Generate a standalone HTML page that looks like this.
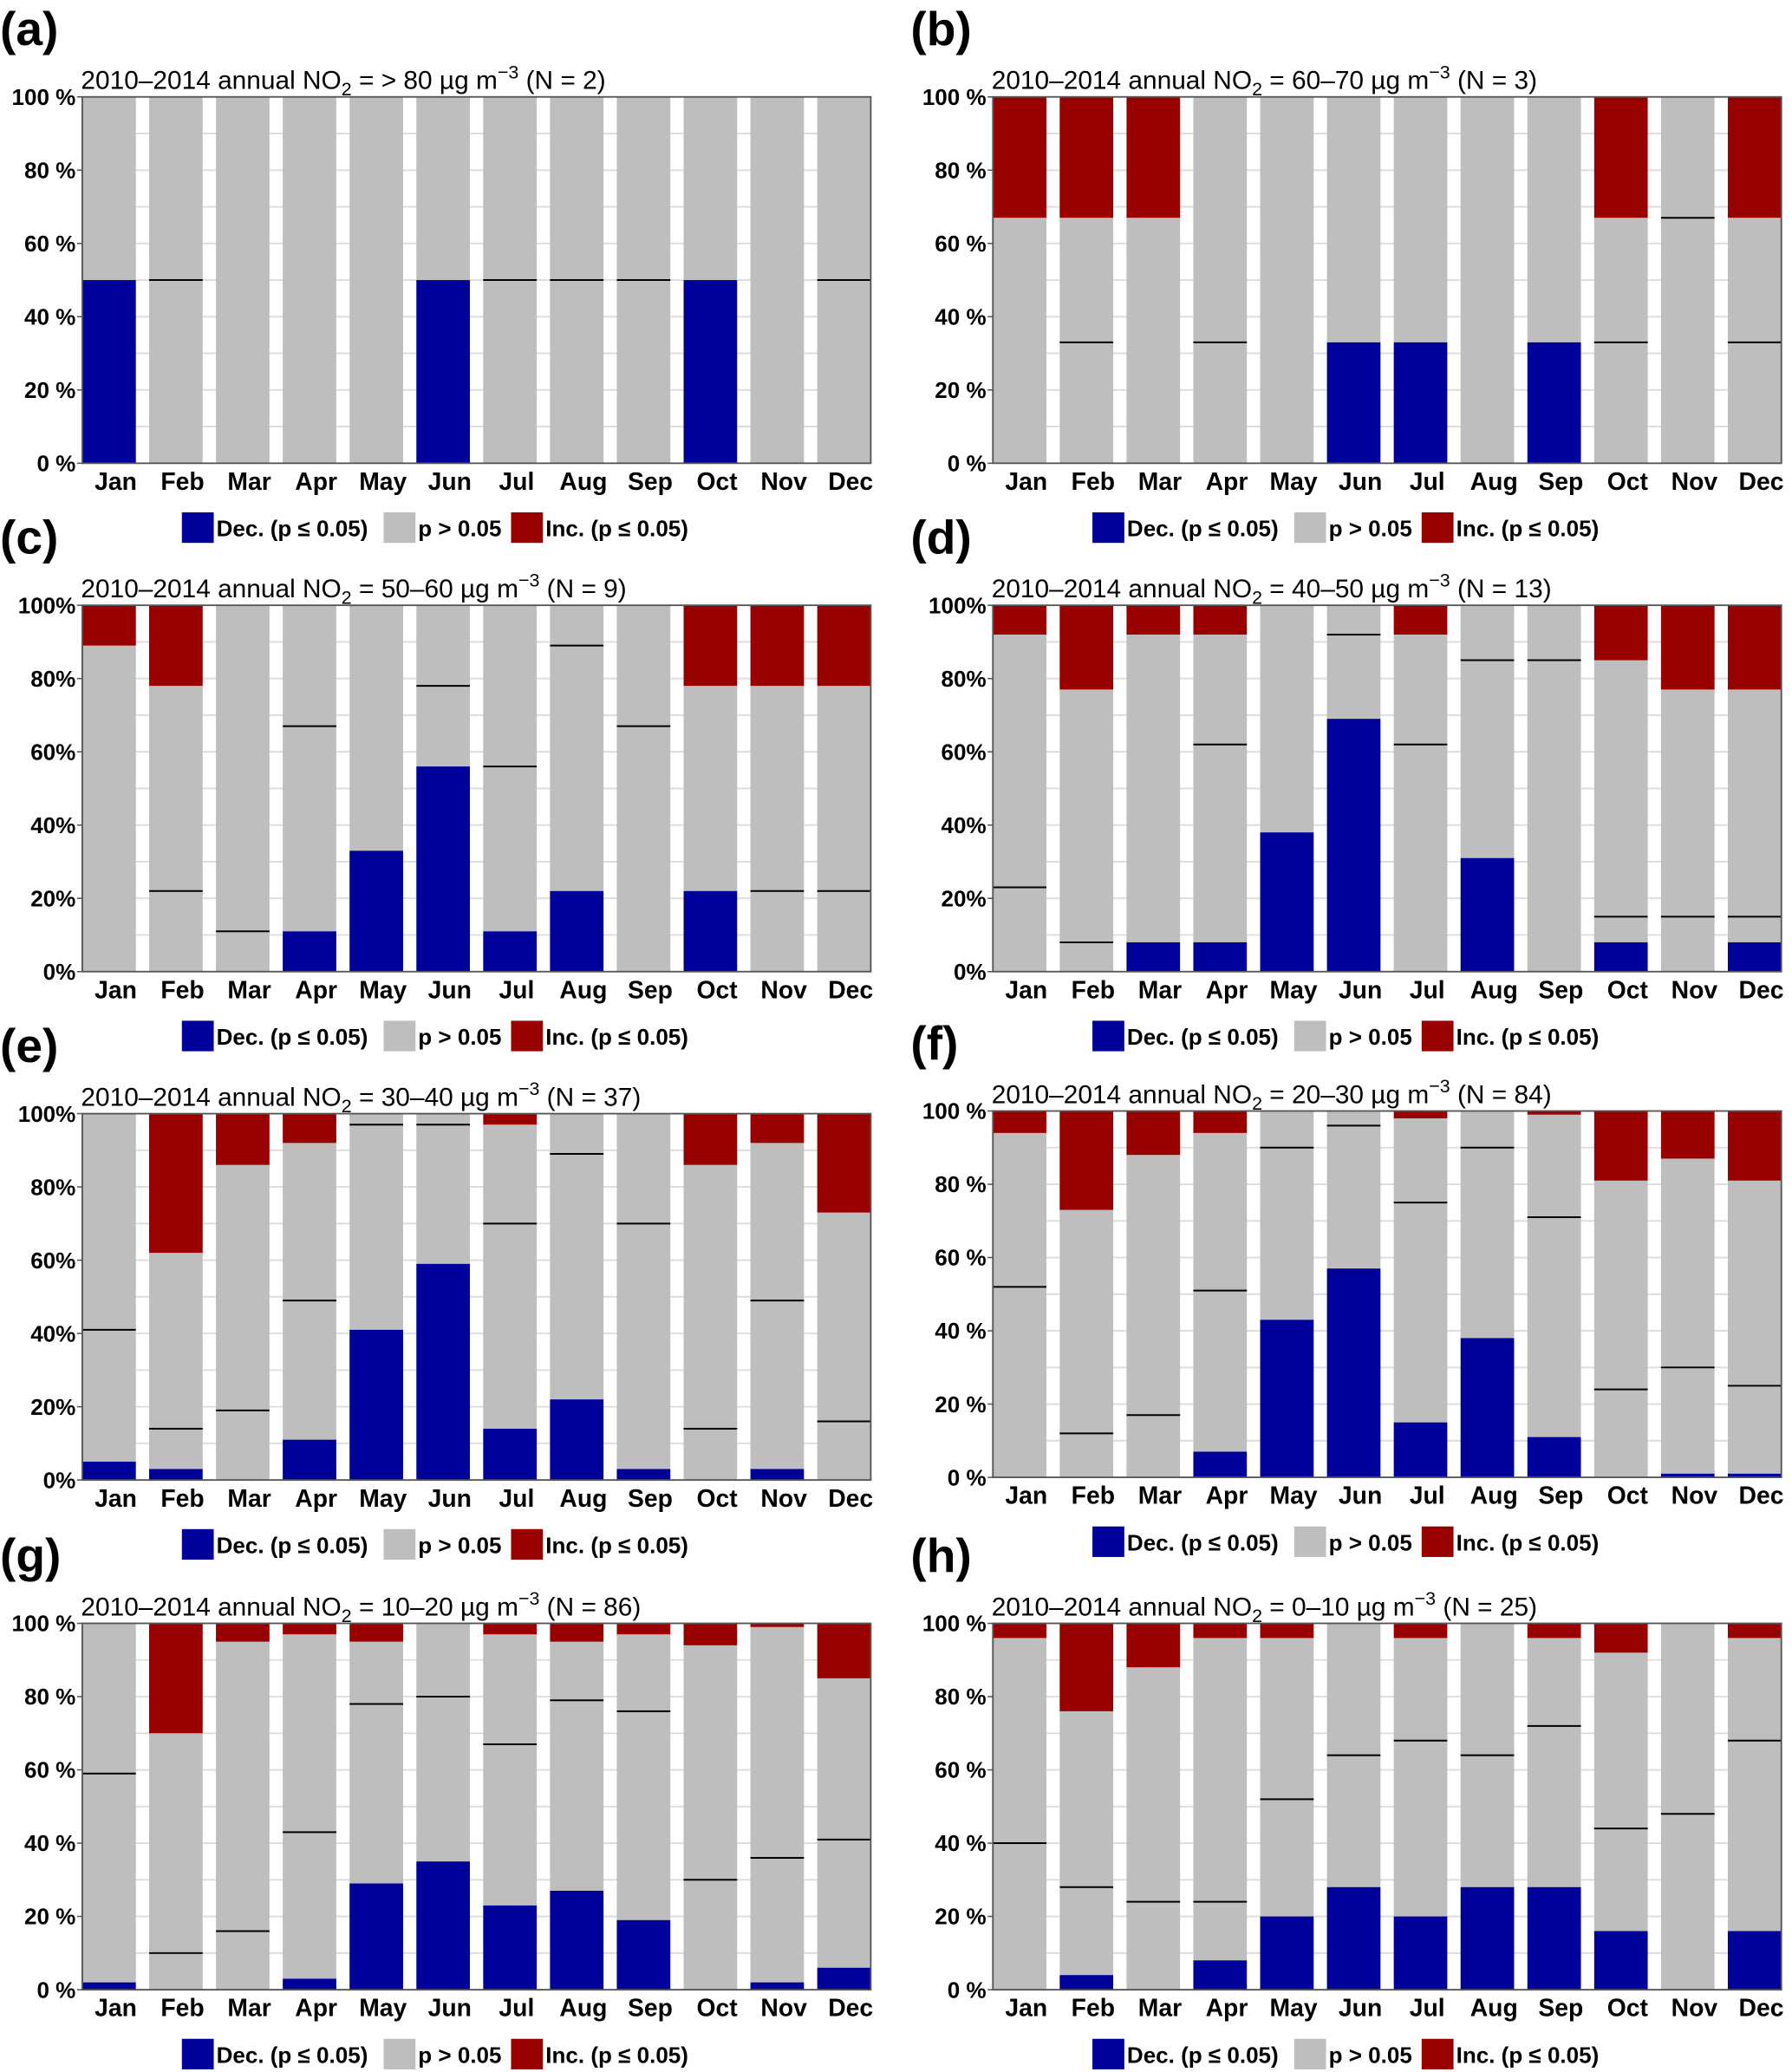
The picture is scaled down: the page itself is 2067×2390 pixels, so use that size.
<!DOCTYPE html>
<html><head><meta charset="utf-8"><style>
html,body{margin:0;padding:0;background:#fff;}
svg{display:block;}
text{font-family:"Liberation Sans Narrow","Liberation Sans",sans-serif;fill:#000;}
</style></head><body>
<svg id="fig" width="2067" height="2390" viewBox="0 0 1350 1561" xmlns="http://www.w3.org/2000/svg"></svg>
<script>
const months=["Jan","Feb","Mar","Apr","May","Jun","Jul","Aug","Sep","Oct","Nov","Dec"];
const yTicks=[0,20,40,60,80,100];
const panelLetters=["a","b","c","d","e","f","g","h"];
const panelRanges=["> 80","60–70","50–60","40–50","30–40","20–30","10–20","0–10"];
const panelN=[2,3,9,13,37,84,86,25];
const decA=[50,0,0,0,0,50,0,0,0,50,0,0];
const midA=[50,50,0,0,0,50,50,50,50,50,0,50];
const incA=[0,0,0,0,0,0,0,0,0,0,0,0];
const decB=[0,0,0,0,0,33,33,0,33,0,0,0];
const midB=[0,33,0,33,0,33,33,0,33,33,67,33];
const incB=[33,33,33,0,0,0,0,0,0,33,0,33];
const decC=[0,0,0,11,33,56,11,22,0,22,0,0];
const midC=[0,22,11,67,33,78,56,89,67,22,22,22];
const incC=[11,22,0,0,0,0,0,0,0,22,22,22];
const decD=[0,0,8,8,38,69,0,31,0,8,0,8];
const midD=[23,8,8,62,38,92,62,85,85,15,15,15];
const incD=[8,23,8,8,0,0,8,0,0,15,23,23];
const decE=[5,3,0,11,41,59,14,22,3,0,3,0];
const midE=[41,14,19,49,97,97,70,89,70,14,49,16];
const incE=[0,38,14,8,0,0,3,0,0,14,8,27];
const decF=[0,0,0,7,43,57,15,38,11,0,1,1];
const midF=[52,12,17,51,90,96,75,90,71,24,30,25];
const incF=[6,27,12,6,0,0,2,0,1,19,13,19];
const decG=[2,0,0,3,29,35,23,27,19,0,2,6];
const midG=[59,10,16,43,78,80,67,79,76,30,36,41];
const incG=[0,30,5,3,5,0,3,5,3,6,1,15];
const decH=[0,4,0,8,20,28,20,28,28,16,0,16];
const midH=[40,28,24,24,52,64,68,64,72,44,48,68];
const incH=[4,24,12,4,4,0,4,0,4,8,0,4];
const decs=[decA,decB,decC,decD,decE,decF,decG,decH];
const mids=[midA,midB,midC,midD,midE,midF,midG,midH];
const incs=[incA,incB,incC,incD,incE,incF,incG,incH];
const pctSpace=[true,true,false,false,false,true,true,true];

const NS="http://www.w3.org/2000/svg";
const svg=document.getElementById('fig');
function mk(tag,attrs,parent){const e=document.createElementNS(NS,tag);for(const k in attrs)e.setAttribute(k,attrs[k]);(parent||svg).appendChild(e);return e;}

const PW=594,PH=276,gap=10;
const slot=(PW+gap)/12,bw=slot-gap;
const tops=[[73,73],[456,456],[839,837],[1223,1223]];
for(let p=0;p<8;p++){
  const col=p%2,row=Math.floor(p/2);
  const x0=col?748:62,y0=tops[row][col];
  const g=mk('g',{});
  
  
  const yS=v=>y0+PH-v/100*PH;
  const xS=i=>x0+i*slot;
  const lt=mk('text',{x:x0-62,y:y0-39,'font-size':36,'font-weight':'bold'},g);
  lt.textContent='('+panelLetters[p]+')';
  
  
  const tt=mk('text',{x:x0-1,y:y0-6,'font-size':19.5},g);
  tt.innerHTML=`2010–2014 annual NO<tspan font-size="14" dy="5">2</tspan><tspan dy="-5"> = ${panelRanges[p]} µg m</tspan><tspan font-size="14" dy="-8">−3</tspan><tspan dy="8"> (N = ${panelN[p]})</tspan>`;
  
  
  for(let v=10;v<100;v+=10){mk('line',{x1:x0,x2:x0+PW,y1:yS(v),y2:yS(v),stroke:'#dcdcdc','stroke-width':1.2},g);}
  for(let i=0;i<12;i++){
    const d=decs[p][i],m=mids[p][i],inc=incs[p][i];
    const gb=mk('rect',{x:xS(i),y:yS(100-inc),width:bw,height:yS(d)-yS(100-inc),fill:'#bebebe'},g);
    
    
    if(d>0){const r=mk('rect',{x:xS(i),y:yS(d),width:bw,height:yS(0)-yS(d),fill:'#00009a'},g);
      
      }
    if(inc>0){const r=mk('rect',{x:xS(i),y:yS(100),width:bw,height:yS(100-inc)-yS(100),fill:'#990000'},g);
      
      }
    if(m>0&&m<100&&m!==d){mk('line',{x1:xS(i),x2:xS(i)+bw,y1:yS(m),y2:yS(m),stroke:'#000','stroke-width':1.3},g);}
    const xl=mk('text',{x:xS(i)+bw/2+5,y:y0+PH+20,'font-size':18.5,'font-weight':'bold','text-anchor':'middle'},g);
    xl.textContent=months[i];
    
    
  }
  mk('rect',{x:x0,y:y0,width:PW,height:PH,fill:'none',stroke:'#555','stroke-width':1.2},g);
  for(const v of yTicks){
    mk('line',{x1:x0-4,x2:x0,y1:yS(v),y2:yS(v),stroke:'#555','stroke-width':1},g);
    const yl=mk('text',{x:x0-5,y:yS(v)+6,'font-size':17,'font-weight':'bold','text-anchor':'end'},g);
    yl.textContent=v+(pctSpace[p]?' %':'%');
    
    
  }
  const ly=y0+PH+37;
  const items=[['#00009a','Dec. (p ≤ 0.05)',75],['#bebebe','p > 0.05',227],['#990000','Inc. (p ≤ 0.05)',323]];
  for(const [c,t,dx] of items){
    const lg=mk('g',{},g);
    
    
    mk('rect',{x:x0+dx,y:ly,width:24,height:23,fill:c},lg);
    const lt2=mk('text',{x:x0+dx+26,y:ly+18,'font-size':17,'font-weight':'bold'},lg);
    lt2.textContent=t;
  }
}
</script>
</body></html>
